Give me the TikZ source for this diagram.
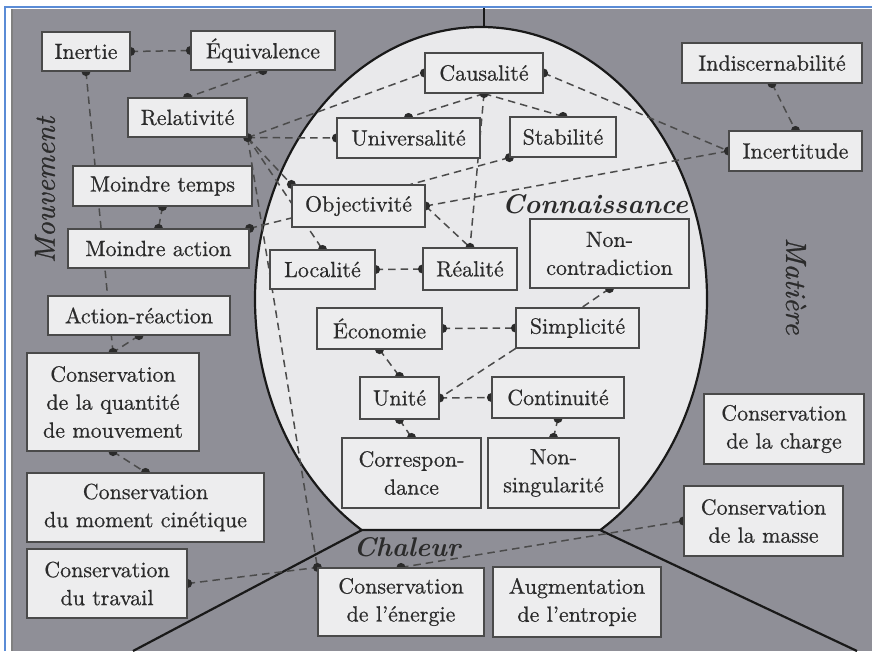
\documentclass[tikz,border=0pt]{standalone}
\usepackage{fontspec}
\setmainfont{lmroman10-regular}[Extension=.otf, ItalicFont=lmroman10-italic, BoldFont=lmroman10-bold, BoldItalicFont=lmroman10-bolditalic]
\newfontfamily\boxfont{lmroman10-regular}[Extension=.otf, FakeBold=0.6]
\newfontfamily\zonefont{lmroman10-italic}[Extension=.otf, FakeBold=0.8]
\usetikzlibrary{calc}
\definecolor{bggray}{HTML}{8F8F97}
\definecolor{lightfill}{HTML}{E9E9EB}
\definecolor{boxfill}{HTML}{EDEDEE}
\definecolor{boxline}{HTML}{4A4A4A}
\definecolor{inkc}{HTML}{2B2B2B}
\definecolor{frameblue}{HTML}{5B8CD6}
\pgfdeclarelayer{back}
\pgfdeclarelayer{links}
\pgfsetlayers{back,links,main}
\tikzset{
  box/.style={draw=boxline, fill=boxfill, line width=1.2pt, inner sep=1pt, align=center, text=inkc, font=\boxfont\fontsize{22}{28}\selectfont},
  link/.style={dash pattern=on 7.5pt off 5pt, line width=1.5pt, draw=inkc!85},
  region/.style={line width=2.2pt, draw=black!90},
  zone/.style={text=inkc, font=\zonefont\fontsize{29}{29}\selectfont},
  zonebold/.style={text=inkc, font=\fontsize{27}{27}\selectfont\bfseries\itshape},
}
\newcommand\dotat[1]{\fill[inkc] (#1) circle (4.5pt);}
\begin{document}
\begin{tikzpicture}[x=1pt,y=-1pt]
\useasboundingbox (0,0) rectangle (872,651);
\begin{pgfonlayer}{back}
  \fill[white] (0,0) rectangle (872,651);
  \fill[bggray] (11,9) rectangle (872,651);
  \draw[black!50, line width=1.5pt] (12,9) -- (12,651);
  \draw[frameblue, line width=1.2pt] (5,651) -- (5,7) -- (872,7);
  \begin{scope}
    \clip (0,0) rectangle (872,530);
    \fill[lightfill] (481,299) ellipse [x radius=226, y radius=272];
    \draw[region] (481,299) ellipse [x radius=226, y radius=272];
  \end{scope}
  \draw[region] (133,651) -- (362,530) -- (600,530) -- (857,651);
  \draw[region] (484,8) -- (484,27);
\end{pgfonlayer}

% boxes
\node[box, minimum width=88pt, minimum height=39pt] (inertie) at (86,51.5) {Inertie};
\node[box, minimum width=144pt, minimum height=39pt] (equiv) at (263,50.5) {Équivalence};
\node[box, minimum width=119pt, minimum height=39pt] (relat) at (187.5,117.5) {Relativité};
\node[box, minimum width=179pt, minimum height=40pt] (mtemps) at (162.5,186) {Moindre temps};
\node[box, minimum width=181pt, minimum height=39pt] (maction) at (158.5,248.5) {Moindre action};
\node[box, minimum width=182pt, minimum height=39pt] (actreac) at (139,315.5) {Action-réaction};
\node[box, minimum width=172pt, minimum height=98pt] (consqdm) at (113,402) {Conservation\\de la quantité\\de mouvement};
\node[box, minimum width=237pt, minimum height=69pt] (consmc) at (145.5,507.5) {Conservation\\du moment cinétique};
\node[box, minimum width=160pt, minimum height=69pt] (constrav) at (107,583.5) {Conservation\\du travail};
\node[box, minimum width=166pt, minimum height=68pt] (consener) at (401,602) {Conservation\\de l’énergie};
\node[box, minimum width=168pt, minimum height=70pt] (augent) at (577,602) {Augmentation\\de l’entropie};
\node[box, minimum width=160pt, minimum height=70pt] (conscharge) at (784,429) {Conservation\\de la charge};
\node[box, minimum width=159pt, minimum height=70pt] (consmasse) at (763.5,521) {Conservation\\de la masse};
\node[box, minimum width=180pt, minimum height=40pt] (indisc) at (772,63) {Indiscernabilité};
\node[box, minimum width=133pt, minimum height=40pt] (incert) at (795.5,151) {Incertitude};
\node[box, minimum width=118pt, minimum height=40pt] (causal) at (484,73) {Causalité};
\node[box, minimum width=143pt, minimum height=40pt] (univ) at (408.5,138) {Universalité};
\node[box, minimum width=106pt, minimum height=40pt] (stab) at (563,137) {Stabilité};
\node[box, minimum width=133pt, minimum height=42pt] (object) at (358.5,206) {Objectivité};
\node[box, minimum width=105pt, minimum height=39pt] (local) at (322.5,269.5) {Localité};
\node[box, minimum width=94pt, minimum height=42pt] (realite) at (470,269) {Réalité};
\node[box, minimum width=159pt, minimum height=69pt] (noncontr) at (609.5,253.5) {Non-\\contradiction};
\node[box, minimum width=125pt, minimum height=41pt] (econ) at (379.5,328.5) {Économie};
\node[box, minimum width=123pt, minimum height=40pt] (simpl) at (577.5,328) {Simplicité};
\node[box, minimum width=79pt, minimum height=42pt] (unite) at (399.5,398) {Unité};
\node[box, minimum width=132pt, minimum height=41pt] (contin) at (558,397.5) {Continuité};
\node[box, minimum width=139pt, minimum height=70pt] (corresp) at (411.5,473) {Correspon-\\dance};
\node[box, minimum width=131pt, minimum height=70pt] (nonsing) at (553.5,473) {Non-\\singularité};

% zone labels
\node[zone, rotate=90] (mouv) at (45,190) {Mouvement};
\node[zone, rotate=-90] (mat) at (796,286) {Matière};
\node[zonebold] (conn) at (595,204) {Connaissance};
\node[zonebold] (chal) at (407,547) {Chaleur};

% connectors
\begin{pgfonlayer}{links}
  \draw[link] (inertie.east) -- (equiv.west);
  \draw[link] (inertie.south) -- (consqdm.north);
  \draw[link] (actreac.south) -- (consqdm.north);
  \draw[link] (equiv.south) -- (relat.north);
  \draw[link] (mtemps.south) -- (maction.north);
  \draw[link] (maction.north east) -- ([yshift=-12pt]object.west);
  \draw[link] (relat.south east) -- (causal.west);
  \draw[link] (relat.south east) -- (univ.west);
  \draw[link] (relat.south east) -- (object.north west);
  \draw[link] (relat.south east) -- (local.north);
  \draw[link] (relat.south east) -- (consener.north west);
  \draw[link] (causal.south) -- (univ.north);
  \draw[link] (causal.south) -- (stab.north);
  \draw[link] (causal.south) -- (realite.north);
  \draw[link] (causal.east) -- (incert.west);
  \draw[link] (stab.south west) -- ([xshift=52pt]object.north);
  \draw[link] (object.east) -- (incert.west);
  \draw[link] (object.east) -- (realite.north);
  \draw[link] (local.east) -- (realite.west);
  \draw[link] (noncontr.south) -- ([xshift=4.5pt]simpl.north);
  \draw[link] (econ.east) -- (simpl.west);
  \draw[link] (econ.south) -- (unite.north);
  \draw[link] (simpl.south west) -- (unite.east);
  \draw[link] (unite.east) -- (contin.west);
  \draw[link] (unite.south) -- (corresp.north);
  \draw[link] (contin.south) -- (nonsing.north);
  \draw[link] (indisc.south) -- (incert.north);
  \draw[link] (consqdm.south) -- (consmc.north);
  \draw[link] (constrav.east) -- (consener.north west);
  \draw[link] (consener.north) -- (consmasse.west);
  % dots
  \dotat{inertie.east}\dotat{equiv.west}
  \dotat{inertie.south}\dotat{consqdm.north}\dotat{actreac.south}
  \dotat{equiv.south}\dotat{relat.north}
  \dotat{mtemps.south}\dotat{maction.north}\dotat{maction.north east}
  \dotat{relat.south east}\dotat{causal.west}\dotat{univ.west}
  \dotat{object.north west}\dotat{local.north}\dotat{consener.north west}
  \dotat{causal.south}\dotat{univ.north}\dotat{stab.north}\dotat{realite.north}
  \dotat{causal.east}\dotat{incert.west}\dotat{stab.south west}
  \dotat{object.east}\dotat{local.east}\dotat{realite.west}
  \dotat{noncontr.south}\dotat{econ.east}\dotat{simpl.west}
  \dotat{econ.south}\dotat{unite.north}\dotat{unite.east}\dotat{contin.west}
  \dotat{unite.south}\dotat{corresp.north}\dotat{contin.south}\dotat{nonsing.north}
  \dotat{indisc.south}\dotat{incert.north}
  \dotat{consqdm.south}\dotat{consmc.north}
  \dotat{constrav.east}\dotat{consener.north}\dotat{consmasse.west}
\end{pgfonlayer}
\end{tikzpicture}
\end{document}
